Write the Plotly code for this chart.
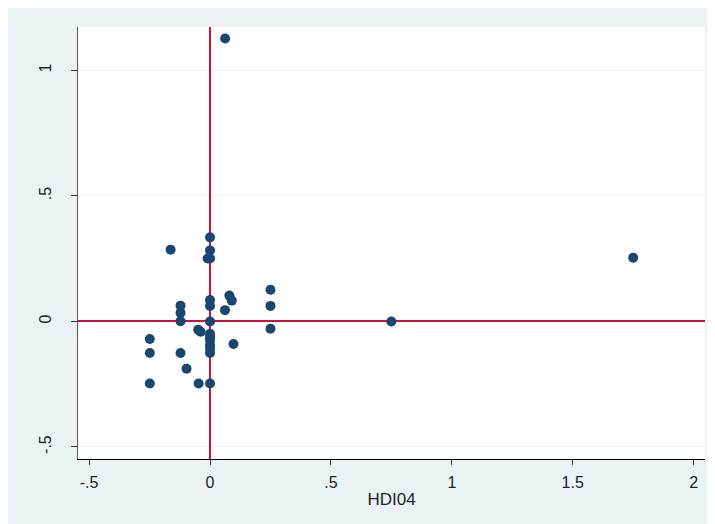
import plotly.graph_objects as go

hdi04 = [0.0625, 0.0, 0.0, -0.01, 0.0, -0.163, 0.25, 0.08, 0.09, 0.0, 0.0, 0.25, 0.062,
         -0.122, -0.122, -0.122, 0.0, 0.25, -0.049, -0.039,
         0.0, 0.0, 0.0, 0.0, 0.0, 0.0, 0.097,
         -0.249, -0.249, -0.122, -0.097, -0.249, -0.047, 0.0, 0.75, 1.75]
yvals = [1.127, 0.335, 0.283, 0.251, 0.251, 0.286, 0.126, 0.103, 0.083, 0.085, 0.062, 0.062, 0.045,
         0.063, 0.034, 0.001, 0.0, -0.029, -0.033, -0.041,
         -0.049, -0.061, -0.074, -0.093, -0.108, -0.126, -0.09,
         -0.07, -0.126, -0.126, -0.188, -0.247, -0.247, -0.247, 0.0, 0.254]

x_ticks = [-0.5, 0, 0.5, 1, 1.5, 2]
x_tick_labels = ["-.5", "0", ".5", "1", "1.5", "2"]
y_ticks = [-0.5, 0, 0.5, 1]
y_tick_labels = ["-.5", "0", ".5", "1"]

BG = "#EAF2F3"
NAVY = "#1a476f"
RED = "#d0103a"
FONT = "Liberation Sans, Arial, sans-serif"

fig = go.Figure()
fig.add_trace(go.Scatter(
    x=hdi04, y=yvals, mode="markers",
    marker=dict(color=NAVY, size=10, line=dict(width=0)),
    showlegend=False, hoverinfo="x+y",
))

fig.update_layout(
    width=707, height=516,
    margin=dict(l=70, r=10, t=19, b=65),
    paper_bgcolor=BG, plot_bgcolor="white",
    font=dict(family=FONT, size=16, color="#222"),
    xaxis=dict(
        range=[-0.546, 2.047], tickmode="array", tickvals=x_ticks, ticktext=x_tick_labels,
        showgrid=False, zeroline=True, zerolinecolor=RED, zerolinewidth=1.6,
        showline=True, linecolor="black", linewidth=1,
        ticks="outside", ticklen=5, tickcolor="#333", tickwidth=1,
        ticklabelstandoff=4,
        title=dict(text="HDI04", font=dict(size=17, family=FONT, color="#222"), standoff=2),
        tickfont=dict(size=16, family=FONT, color="#222"),
    ),
    yaxis=dict(
        range=[-0.548, 1.173], tickmode="array", tickvals=y_ticks, ticktext=y_tick_labels,
        showgrid=True, gridcolor=BG, gridwidth=1,
        zeroline=True, zerolinecolor=RED, zerolinewidth=1.6,
        showline=True, linecolor="#555", linewidth=1,
        ticks="outside", ticklen=6, tickcolor="#333", tickwidth=1,
        tickangle=-90, ticklabelstandoff=14,
        tickfont=dict(size=16, family=FONT, color="#222"),
    ),
)

fig.write_html("out.html")
